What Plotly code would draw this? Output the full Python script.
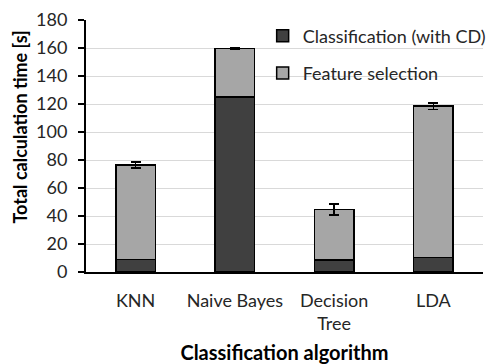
import plotly.graph_objects as go

categories = ["KNN", "Naive Bayes", "Decision<br>Tree", "LDA"]
classification = [9.1, 125.0, 8.4, 10.3]
feature_selection = [67.3, 34.7, 36.2, 108.2]
fs_error = [2.0, 0.7, 3.8, 2.3]

dark = "#404040"
light = "#a6a6a6"
font_family = "Lato, 'Open Sans', sans-serif"

fig = go.Figure()
fig.add_trace(go.Bar(
    x=categories, y=classification, name="Classification (with CD)",
    marker=dict(color=dark, line=dict(color="black", width=1.5)),
    legendgroup="a",
))
fig.add_trace(go.Bar(
    x=categories, y=feature_selection, name="Feature selection",
    marker=dict(color=light, line=dict(color="black", width=1.5)),
    error_y=dict(type="data", array=fs_error, color="black", thickness=1.5, width=5),
    legendgroup="b",
))

fig.update_layout(
    width=489, height=364,
    barmode="stack", bargap=0.6,
    plot_bgcolor="white", paper_bgcolor="white",
    margin=dict(l=86, r=6, t=20, b=92, autoexpand=False),
    font=dict(family=font_family, size=18, color="#262626"),
    showlegend=True,
    legend=dict(
        x=0.445, y=1.01, xanchor="left", yanchor="top",
        traceorder="grouped", tracegroupgap=11,
        bgcolor="rgba(0,0,0,0)", font=dict(size=18),
    ),
    xaxis=dict(
        showline=True, linecolor="black", linewidth=2,
        ticks="", ticklabelstandoff=11, automargin=False,
        title=dict(text="<b>Classification algorithm</b>", font=dict(size=20, color="black"), standoff=14),
    ),
    yaxis=dict(
        range=[0, 180], dtick=20, tick0=0,
        showline=True, linecolor="black", linewidth=2,
        ticks="outside", ticklen=6, tickcolor="black", tickwidth=1.5,
        ticklabelstandoff=7, automargin=False,
        showgrid=True, gridcolor="#d9d9d9", gridwidth=1,
        zeroline=False,
    ),
    annotations=[dict(
        text="<b>Total calculation time [s]</b>", textangle=-90,
        xref="paper", yref="paper", x=-0.165, y=0.575,
        xanchor="center", yanchor="middle", showarrow=False,
        font=dict(size=18, color="black"),
    )],
)

fig.write_html("out.html")
